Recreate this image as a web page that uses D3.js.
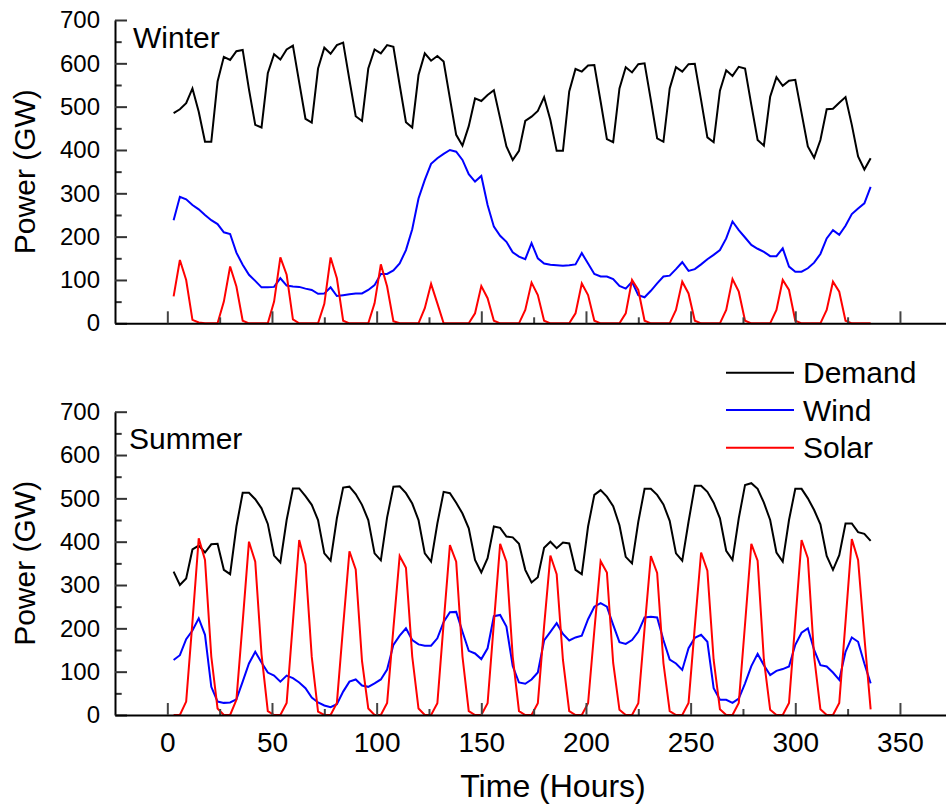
<!DOCTYPE html>
<html>
<head>
<meta charset="utf-8">
<script src="https://cdn.jsdelivr.net/npm/d3@7/dist/d3.min.js"></script>
<style>
  html, body { margin: 0; padding: 0; background: #fff; }
  svg { display: block; font-family: "Liberation Sans", Arial, sans-serif; }
</style>
</head>
<body>
<svg id="chart" width="946" height="807"></svg>
<script>
// ---- Data (hours sampled every 3 h over 14 days) ----
const hours = [3,6,9,12,15,18,21,24,27,30,33,36,39,42,45,48,51,54,57,60,63,66,69,72,75,78,81,84,87,90,93,96,99,102,105,108,111,114,117,120,123,126,129,132,135,138,141,144,147,150,153,156,159,162,165,168,171,174,177,180,183,186,189,192,195,198,201,204,207,210,213,216,219,222,225,228,231,234,237,240,243,246,249,252,255,258,261,264,267,270,273,276,279,282,285,288,291,294,297,300,303,306,309,312,315,318,321,324,327,330,333,336];

const winterDemand = [485,494,508,542,488,419,419,558,615,608,628,631,540,458,452,577,621,609,632,641,556,472,463,588,636,622,642,648,562,478,467,588,632,623,642,638,550,464,452,573,623,606,617,604,519,435,410,455,519,513,527,538,473,408,377,398,467,477,490,522,469,398,398,535,587,581,595,596,512,425,418,542,591,579,598,600,515,427,419,542,591,581,598,599,515,429,418,537,584,571,592,588,504,423,410,523,568,548,560,562,485,408,382,423,494,495,509,522,458,385,355,381];

const winterWind = [238,292,286,273,263,250,238,229,210,206,163,135,112,98,83,83,84,104,87,85,84,80,77,68,69,83,63,65,67,69,69,77,88,114,114,122,138,169,217,288,331,368,381,391,400,396,377,344,327,340,273,223,202,188,164,154,148,185,150,138,135,134,133,134,136,162,138,114,108,108,102,86,80,96,65,60,75,92,108,110,125,141,121,125,136,148,158,169,196,235,215,198,181,172,165,155,155,173,131,119,119,127,140,160,196,215,204,225,252,265,277,315];

const winterSolar = [62,146,100,8,2,0,0,0, 50,131,85,6,0,0,0,0, 50,152,112,9,0,0,0,0, 45,152,104,6,0,0,0,0, 46,136,85,5,0,0,0,0, 35,91,46,0,0,0,0,0, 23,86,58,6,0,0,0,0, 31,94,65,6,0,0,0,0, 23,92,65,6,0,0,0,0, 23,100,77,6,0,0,0,0, 31,96,69,6,0,0,0,0, 31,102,73,6,0,0,0,0, 31,100,77,6,0,0,0,0, 31,96,73,6,0,0,0,0];

const summerDemand = [331,300,315,382,391,375,394,395,335,325,435,513,513,498,477,441,368,352,450,523,523,505,485,450,373,356,454,525,527,510,485,450,373,357,456,527,528,512,488,450,373,354,442,515,512,490,465,431,358,329,362,435,432,412,410,395,335,306,318,386,400,385,398,396,335,325,435,508,519,504,482,438,365,350,446,522,522,508,486,448,373,356,446,529,529,515,490,454,379,358,454,531,535,522,490,450,375,354,450,522,522,500,473,440,367,335,369,442,442,422,418,402];

const summerWind = [127,138,175,195,223,185,65,31,28,29,36,77,119,146,121,98,91,77,91,85,75,62,40,29,22,18,25,54,77,82,68,65,73,82,105,162,183,200,173,163,160,160,177,215,237,238,192,148,142,129,154,228,231,204,113,75,72,82,98,172,192,212,187,172,179,183,221,250,258,250,208,168,164,173,192,225,227,225,173,128,119,104,154,178,185,169,62,35,35,28,38,73,113,141,115,92,102,106,112,162,190,200,150,115,112,98,81,146,179,169,119,73];

const summerSolar = [0,0,31,215,408,358,135,15, 0,0,35,215,400,354,140,9, 0,0,28,215,404,348,134,8, 0,0,28,205,378,336,125,15, 0,0,28,200,367,340,135,15, 0,0,27,212,392,354,135,9, 0,0,27,212,395,354,135,9, 0,0,27,205,368,325,127,9, 0,0,27,195,355,329,120,12, 0,0,27,200,367,328,120,9, 0,0,28,204,375,333,127,13, 0,0,28,210,395,356,127,12, 0,0,28,215,404,362,135,13, 0,0,28,215,406,358,180,13];

const yMajorTicks = [0,100,200,300,400,500,600,700];
const yMinorTicks = [50,150,250,350,450,550,650];
const xMajorTicks = [0,50,100,150,200,250,300,350];
const xMinorTicks = [25,75,125,175,225,275,325];

const seriesNames = ["Demand","Wind","Solar"];
const seriesColors = ["#000000","#0000ff","#ff0000"];

// ---- Layout ----
const svg = d3.select("#chart");
const FONT = '"Liberation Sans", Arial, sans-serif';

const x = d3.scaleLinear().domain([-25, 372]).range([115, 946]);

const panels = [
  { name: "Winter", top: 20, bottom: 323.3, data: [winterDemand, winterWind, winterSolar], labelX: 133, labelY: 48, xLabels: false },
  { name: "Summer", top: 411.7, bottom: 715, data: [summerDemand, summerWind, summerSolar], labelX: 129, labelY: 449, xLabels: true }
];

panels.forEach(p => {
  const y = d3.scaleLinear().domain([0, 700]).range([p.bottom, p.top]);
  const g = svg.append("g");

  // lines
  p.data.forEach((vals, i) => {
    const line = d3.line().x((d, j) => x(hours[j])).y(d => y(d));
    g.append("path")
      .datum(vals)
      .attr("fill", "none")
      .attr("stroke", seriesColors[i])
      .attr("stroke-width", 2)
      .attr("stroke-linejoin", "miter")
      .attr("d", line);
  });

  // y axis (minor)
  const yMinor = g.append("g").attr("transform", "translate(115,0)")
    .call(d3.axisLeft(y).tickValues(yMinorTicks).tickSizeInner(-6.7).tickSizeOuter(0).tickFormat(""));
  yMinor.select(".domain").remove();
  yMinor.selectAll("line").attr("stroke", "#333").attr("stroke-width", 2);

  // y axis (major)
  const yMajor = g.append("g").attr("transform", "translate(115,0)")
    .call(d3.axisLeft(y).tickValues(yMajorTicks).tickSizeInner(-12).tickSizeOuter(0).tickPadding(15));
  yMajor.select(".domain").attr("stroke", "#000").attr("stroke-width", 2);
  yMajor.selectAll("line").attr("stroke", "#333").attr("stroke-width", 2);
  yMajor.selectAll("text").attr("font-size", 24).attr("font-family", FONT).attr("fill", "#000");

  // x axis (minor)
  const xMinor = g.append("g").attr("transform", `translate(0,${p.bottom})`)
    .call(d3.axisBottom(x).tickValues(xMinorTicks).tickSizeInner(-6).tickSizeOuter(0).tickFormat(""));
  xMinor.select(".domain").remove();
  xMinor.selectAll("line").attr("stroke", "#444").attr("stroke-width", 2);

  // x axis (major)
  const xMajor = g.append("g").attr("transform", `translate(0,${p.bottom})`)
    .call(d3.axisBottom(x).tickValues(xMajorTicks).tickSizeInner(-12).tickSizeOuter(0).tickPadding(17)
      .tickFormat(p.xLabels ? d3.format("d") : ""));
  xMajor.select(".domain").attr("stroke", "#000").attr("stroke-width", 2);
  xMajor.selectAll("line").attr("stroke", "#444").attr("stroke-width", 2);
  xMajor.selectAll("text").attr("font-size", 28).attr("font-family", FONT).attr("fill", "#000");

  // panel label
  svg.append("text").attr("x", p.labelX).attr("y", p.labelY)
    .attr("font-size", 30).attr("font-family", FONT).text(p.name);

  // y title
  svg.append("text")
    .attr("transform", `translate(35,${(p.top + p.bottom) / 2}) rotate(-90)`)
    .attr("text-anchor", "middle")
    .attr("font-size", 30).attr("font-family", FONT)
    .text("Power (GW)");
});

// x title
svg.append("text").attr("x", 553).attr("y", 797)
  .attr("text-anchor", "middle").attr("font-size", 32).attr("font-family", FONT)
  .text("Time (Hours)");

// legend
const legendY = [372.7, 410, 447.7];
seriesNames.forEach((n, i) => {
  svg.append("line").attr("x1", 726).attr("x2", 794).attr("y1", legendY[i]).attr("y2", legendY[i])
    .attr("stroke", seriesColors[i]).attr("stroke-width", 2);
  svg.append("text").attr("x", 803).attr("y", legendY[i] + 10.5)
    .attr("font-size", 30).attr("font-family", FONT).text(n);
});
</script>
</body>
</html>
